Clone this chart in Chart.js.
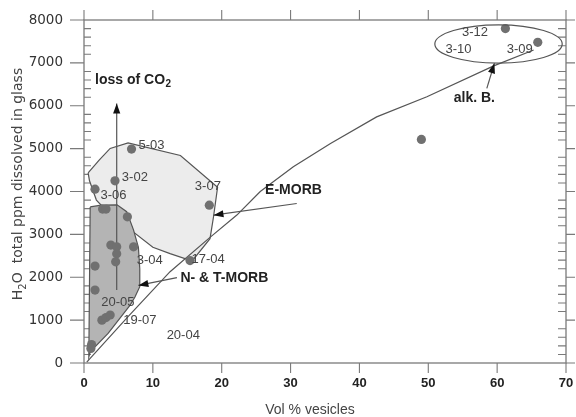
<!DOCTYPE html>
<html><head><meta charset="utf-8">
<script src="https://cdn.jsdelivr.net/npm/chart.js@4.4.1/dist/chart.umd.min.js"></script>
<style>html,body{margin:0;padding:0;background:#fff;}#wrap{width:576px;height:417px;}</style>
</head><body><div id="wrap"><canvas id="c" width="576" height="417"></canvas></div>
<script>
// ---- data ----
const xTicks = [0, 10, 20, 30, 40, 50, 60, 70];
const yTicks = [0, 1000, 2000, 3000, 4000, 5000, 6000, 7000, 8000];
const yMinorStep = 200;

const sampleX = [6.9, 4.5, 1.6, 2.7, 3.2, 6.3, 3.9, 4.75, 4.75, 4.6, 7.2, 1.6, 1.6, 2.6, 3.2, 3.8, 1.1, 1.0, 15.4, 18.2, 61.2, 65.9, 49.0];
const sampleY = [4990, 4250, 4055, 3590, 3590, 3410, 2750, 2710, 2550, 2360, 2710, 2260, 1700, 1000, 1060, 1120, 430, 340, 2390, 3680, 7800, 7480, 5215];

const curveX = [0.4, 6.5, 12.5, 18.3, 22.2, 25.6, 30.4, 35.8, 42.5, 49.8, 59.5, 65.3];
const curveY = [20, 1100, 2130, 2930, 3450, 4000, 4575, 5120, 5740, 6210, 6930, 7300];

const lightX = [0.6, 2.2, 3.8, 6.4, 14.0, 19.4, 18.8, 18.3, 16.0, 15.3, 12.5, 10.0, 7.2, 6.2, 2.5, 1.8, 0.8];
const lightY = [4435, 4730, 5005, 5135, 4840, 4100, 3400, 2900, 2440, 2400, 2550, 2700, 3050, 3500, 3680, 3800, 4250];

const darkX = [0.9, 2.5, 4.8, 6.2, 7.2, 7.9, 8.1, 8.1, 7.4, 6.7, 3.5, 0.9, 0.7];
const darkY = [3640, 3680, 3690, 3530, 3100, 2700, 2200, 1780, 1540, 1350, 690, 260, 140];

const ellipseCenter = [60.2, 7440];
const ellipseRadius = [9.25, 445];

const arrowTailX = [4.75, 30.9, 13.5, 58.5];
const arrowTailY = [1700, 3720, 1990, 6405];
const arrowHeadX = [4.75, 18.8, 7.9, 59.6];
const arrowHeadY = [6050, 3448, 1810, 6990];

const sampleLabels = ["5-03", "3-02", "3-06", "3-07", "3-04", "17-04", "20-05", "19-07", "20-04", "3-12", "3-10", "3-09"];
const sampleLabelX = [7.9, 5.5, 2.4, 16.1, 7.65, 15.6, 2.5, 5.7, 12.0, 54.9, 52.5, 61.4];
const sampleLabelY = [5070, 4340, 3900, 4125, 2400, 2410, 1405, 1000, 635, 7712, 7316, 7316];

const fieldLabels = ["loss of CO", "E-MORB", "N- & T-MORB", "alk. B."];
const fieldLabelSub = ["2", "", "", ""];
const fieldLabelX = [1.6, 26.3, 14.0, 53.7];
const fieldLabelY = [6600, 4030, 1975, 6172];

const xTitle = "Vol % vesicles";
const yTitleParts = ["H", "2", "O  total ppm dissolved in glass"];

// ---- helpers ----
const pts = (xs, ys) => xs.map((v, i) => ({x: v, y: ys[i]}));
const closed = (xs, ys) => { const p = pts(xs, ys); p.push({...p[0]}); return p; };
const LINE = '#555';

const datasets = [
  {data: pts(sampleX, sampleY), showLine: false, pointRadius: 4.6, pointBackgroundColor: '#707070', pointBorderWidth: 0, order: 1},
  {data: pts(curveX, curveY), showLine: true, borderColor: LINE, borderWidth: 1.2, pointRadius: 0, fill: false, order: 5},
  {data: closed(darkX, darkY), showLine: true, borderColor: LINE, borderWidth: 1.2, backgroundColor: '#b4b4b4', fill: 'shape', pointRadius: 0, order: 8},
  {data: closed(lightX, lightY), showLine: true, borderColor: LINE, borderWidth: 1.2, backgroundColor: '#ececec', fill: 'shape', pointRadius: 0, order: 9}
];
arrowTailX.forEach((v, i) => {
  datasets.push({data: [{x: v, y: arrowTailY[i]}, {x: arrowHeadX[i], y: arrowHeadY[i]}], showLine: true, borderColor: LINE, borderWidth: 1.2, pointRadius: 0, fill: false, order: 4});
});

const SANS = '"Liberation Sans", Arial, sans-serif';

const deco = {
  id: 'deco',
  beforeDatasetsDraw(chart) {
    const {ctx, chartArea: a, scales: {x, y}} = chart;
    ctx.save();
    ctx.strokeStyle = '#7a7a7a';
    ctx.lineWidth = 1.3;
    ctx.strokeRect(a.left, a.top, a.right - a.left, a.bottom - a.top);
    ctx.lineWidth = 1.1;
    ctx.beginPath();
    xTicks.forEach(v => {
      const px = x.getPixelForValue(v);
      ctx.moveTo(px, a.bottom); ctx.lineTo(px, a.bottom + 10);
      ctx.moveTo(px, a.top); ctx.lineTo(px, a.top - 10);
    });
    const y0 = yTicks[0], y1 = yTicks[yTicks.length - 1];
    for (let v = y0; v <= y1; v += yMinorStep) {
      const py = y.getPixelForValue(v);
      if (yTicks.includes(v)) {
        ctx.moveTo(a.left - 14, py); ctx.lineTo(a.left, py);
        ctx.moveTo(a.right, py); ctx.lineTo(a.right + 9, py);
      } else {
        ctx.moveTo(a.left, py); ctx.lineTo(a.left + 7, py);
        ctx.moveTo(a.right - 8, py); ctx.lineTo(a.right, py);
      }
    }
    ctx.stroke();
    ctx.restore();
  },
  afterDatasetsDraw(chart) {
    const {ctx, scales: {x, y}} = chart;
    ctx.save();
    const cx = x.getPixelForValue(ellipseCenter[0]), cy = y.getPixelForValue(ellipseCenter[1]);
    const rx = Math.abs(x.getPixelForValue(ellipseCenter[0] + ellipseRadius[0]) - cx);
    const ry = Math.abs(y.getPixelForValue(ellipseCenter[1] + ellipseRadius[1]) - cy);
    ctx.strokeStyle = LINE; ctx.lineWidth = 1.2;
    ctx.beginPath(); ctx.ellipse(cx, cy, rx, ry, 0, 0, Math.PI * 2); ctx.stroke();
    ctx.fillStyle = '#111';
    arrowHeadX.forEach((hx, i) => {
      const hpx = x.getPixelForValue(hx), hpy = y.getPixelForValue(arrowHeadY[i]);
      const tpx = x.getPixelForValue(arrowTailX[i]), tpy = y.getPixelForValue(arrowTailY[i]);
      const ang = Math.atan2(hpy - tpy, hpx - tpx);
      const L = 10, W = 3.6;
      ctx.save(); ctx.translate(hpx, hpy); ctx.rotate(ang);
      ctx.beginPath(); ctx.moveTo(0, 0); ctx.lineTo(-L, -W); ctx.lineTo(-L, W); ctx.closePath(); ctx.fill();
      ctx.restore();
    });
    ctx.fillStyle = '#444';
    ctx.font = '13px ' + SANS;
    ctx.textBaseline = 'middle'; ctx.textAlign = 'left';
    sampleLabels.forEach((t, i) => {
      ctx.fillText(t, x.getPixelForValue(sampleLabelX[i]), y.getPixelForValue(sampleLabelY[i]));
    });
    ctx.fillStyle = '#222';
    fieldLabels.forEach((t, i) => {
      const px = x.getPixelForValue(fieldLabelX[i]), py = y.getPixelForValue(fieldLabelY[i]);
      ctx.font = 'bold 14px ' + SANS;
      ctx.fillText(t, px, py);
      if (fieldLabelSub[i]) {
        const w = ctx.measureText(t).width;
        ctx.font = 'bold 10px ' + SANS;
        ctx.fillText(fieldLabelSub[i], px + w + 0.5, py + 4);
      }
    });
    ctx.restore();
  },
  afterDraw(chart) {
    const {ctx} = chart;
    ctx.save();
    ctx.fillStyle = '#444';
    ctx.font = '14px ' + SANS;
    ctx.textAlign = 'center'; ctx.textBaseline = 'alphabetic';
    ctx.fillText(xTitle, 310, 414);
    ctx.translate(22, 184);
    ctx.rotate(-Math.PI / 2);
    ctx.textAlign = 'left';
    const big = '14px "DejaVu Sans", sans-serif', small = '10px "DejaVu Sans", sans-serif';
    ctx.font = big; const w0 = ctx.measureText(yTitleParts[0]).width;
    const w2 = ctx.measureText(yTitleParts[2]).width;
    ctx.font = small; const w1 = ctx.measureText(yTitleParts[1]).width;
    const total = w0 + w1 + w2;
    let px = -total / 2;
    ctx.font = big; ctx.fillText(yTitleParts[0], px, 0); px += w0;
    ctx.font = small; ctx.fillText(yTitleParts[1], px, 4); px += w1;
    ctx.font = big; ctx.fillText(yTitleParts[2], px, 0);
    ctx.restore();
  }
};

new Chart(document.getElementById('c'), {
  type: 'scatter',
  data: {datasets},
  options: {
    responsive: false,
    animation: false,
    devicePixelRatio: 1,
    layout: {padding: {top: 20, right: 10, left: 0, bottom: 0}},
    plugins: {legend: {display: false}, tooltip: {enabled: false}},
    scales: {
      x: {
        type: 'linear', min: xTicks[0], max: xTicks[xTicks.length - 1],
        afterFit: s => { s.height = 54; s.paddingLeft = 0; s.paddingRight = 0; },
        grid: {display: false, drawTicks: false},
        border: {display: false},
        ticks: {stepSize: 10, padding: 13, maxRotation: 0, color: '#222', font: {family: SANS, size: 13, weight: 'bold'}, callback: v => String(v)}
      },
      y: {
        type: 'linear', min: yTicks[0], max: yTicks[yTicks.length - 1],
        afterFit: s => { s.width = 84; s.paddingTop = 0; s.paddingBottom = 0; },
        grid: {display: false, drawTicks: false},
        border: {display: false},
        ticks: {stepSize: 1000, padding: 21, color: '#333', font: {family: '"DejaVu Sans", sans-serif', size: 13.5}, callback: v => String(v)}
      }
    }
  },
  plugins: [deco]
});
</script>
</body></html>
